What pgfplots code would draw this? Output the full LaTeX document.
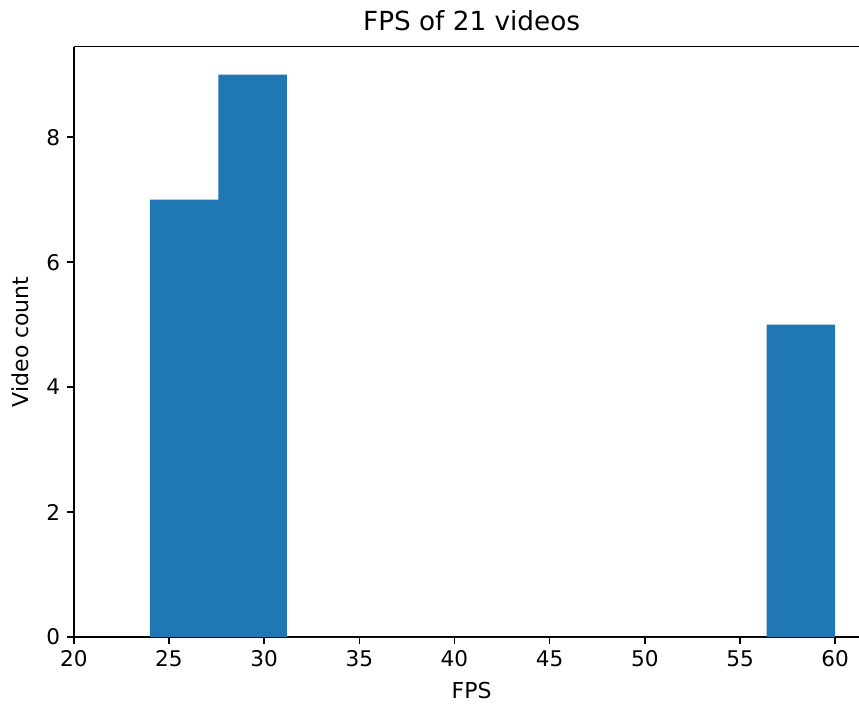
\documentclass[border=0pt]{standalone}
\usepackage{fontspec}
\setmainfont{DejaVu Sans}
\usepackage{pgfplots}
\pgfplotsset{compat=1.18}
\definecolor{tabblue}{HTML}{1F77B4}
\begin{document}
\begin{tikzpicture}
    \begin{axis}[
        name=ax,
        scale only axis,
        width=442pt,
        height=328pt,
        xmin=20, xmax=61.8,
        ymin=0, ymax=9.45,
        axis x line*=box,
        axis y line*=left,
        axis line style={line width=0.9pt},
        xtick={20,25,30,35,40,45,50,55,60},
        ytick={0,2,4,6,8},
        tick align=outside,
        major tick length=4pt,
        tick style={line width=0.9pt, black},
        xtick pos=bottom,
        ytick pos=left,
        /pgf/number format/assume math mode=true,
        tick label style={font=\fontsize{12}{14}\selectfont},
        label style={font=\fontsize{12.2}{14}\selectfont},
        xlabel style={yshift=-1.5pt},
        ylabel style={yshift=3pt},
        title style={font=\fontsize{14.6}{17}\selectfont, yshift=-1pt},
        title={FPS of 21 videos},
        xlabel={FPS},
        ylabel={Video count},
        clip=false]
        \addplot[ybar interval, fill=tabblue, draw=none] coordinates {
            (24,7) (27.6,9) (31.2,0) (34.8,0) (38.4,0) (42,0)
            (45.6,0) (49.2,0) (52.8,0) (56.4,5) (60,5)
        };
    \end{axis}
    \pgfresetboundingbox
    \useasboundingbox (ax.south west) ++(-41pt,-38.3pt) rectangle ++(477.2pt,392.2pt);
\end{tikzpicture}
\end{document}
